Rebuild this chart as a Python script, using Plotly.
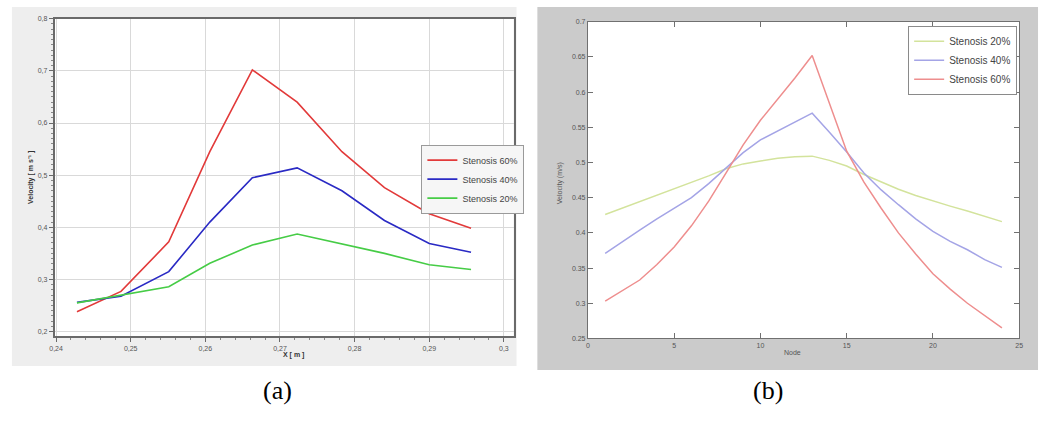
import plotly.graph_objects as go

# ---------------- Panel (a) data ----------------
a_x = [0.2428, 0.2487, 0.2551, 0.2606, 0.2663, 0.2723, 0.2783, 0.2840, 0.2900, 0.2956]
a_sten60 = [0.238, 0.277, 0.372, 0.545, 0.702, 0.640, 0.545, 0.476, 0.426, 0.398]
a_sten40 = [0.256, 0.268, 0.315, 0.410, 0.495, 0.514, 0.470, 0.413, 0.369, 0.352]
a_sten20 = [0.255, 0.270, 0.286, 0.331, 0.366, 0.387, 0.368, 0.350, 0.328, 0.319]

# ---------------- Panel (b) data ----------------
b_nodes = list(range(1, 25))
b_sten20 = [0.426, 0.435, 0.444, 0.453, 0.462, 0.471, 0.481, 0.491, 0.498, 0.502, 0.506, 0.508,
            0.509, 0.503, 0.495, 0.483, 0.472, 0.462, 0.453, 0.445, 0.438, 0.431, 0.423, 0.416]
b_sten40 = [0.371, 0.388, 0.404, 0.420, 0.435, 0.450, 0.470, 0.492, 0.514, 0.532, 0.545, 0.557,
            0.570, 0.543, 0.515, 0.485, 0.461, 0.440, 0.420, 0.402, 0.388, 0.376, 0.362, 0.351]
b_sten60 = [0.303, 0.318, 0.333, 0.355, 0.380, 0.410, 0.445, 0.485, 0.525, 0.560, 0.590, 0.620,
            0.652, 0.585, 0.516, 0.472, 0.435, 0.400, 0.370, 0.342, 0.320, 0.300, 0.282, 0.265]
b_yticks = [0.25, 0.3, 0.35, 0.4, 0.45, 0.5, 0.55, 0.6, 0.65, 0.7]
b_yticktext = ["0.25", "0.3", "0.35", "0.4", "0.45", "0.5", "0.55", "0.6", "0.65", "0.7"]
b_xticks = [0, 5, 10, 15, 20, 25]
b_xticktext = ["0", "5", "10", "15", "20", "25"]

W, H = 1044, 428
def px(x):
    return x / W
def py(y):
    return 1 - y / H

fig = go.Figure()

# panel (a) traces
fig.add_trace(go.Scatter(x=a_x, y=a_sten60, mode="lines", name="Stenosis 60%",
                         line=dict(color="#e23a3a", width=1.6), xaxis="x", yaxis="y", legend="legend"))
fig.add_trace(go.Scatter(x=a_x, y=a_sten40, mode="lines", name="Stenosis 40%",
                         line=dict(color="#2a2ac4", width=1.6), xaxis="x", yaxis="y", legend="legend"))
fig.add_trace(go.Scatter(x=a_x, y=a_sten20, mode="lines", name="Stenosis 20%",
                         line=dict(color="#46cc46", width=1.6), xaxis="x", yaxis="y", legend="legend"))

# panel (b) traces
fig.add_trace(go.Scatter(x=b_nodes, y=b_sten20, mode="lines", name="Stenosis 20%",
                         line=dict(color="#d3e39c", width=1.5), xaxis="x2", yaxis="y2", legend="legend2"))
fig.add_trace(go.Scatter(x=b_nodes, y=b_sten40, mode="lines", name="Stenosis 40%",
                         line=dict(color="#a4a4e6", width=1.5), xaxis="x2", yaxis="y2", legend="legend2"))
fig.add_trace(go.Scatter(x=b_nodes, y=b_sten60, mode="lines", name="Stenosis 60%",
                         line=dict(color="#ee8e8e", width=1.5), xaxis="x2", yaxis="y2", legend="legend2"))

shapes = [
    # panel backgrounds
    dict(type="rect", xref="paper", yref="paper", x0=px(7), x1=px(516), y0=py(368), y1=py(3),
         fillcolor="#eeeeee", line=dict(width=0), layer="below"),
    dict(type="rect", xref="x domain", yref="y domain", x0=0, x1=1, y0=0, y1=1,
         fillcolor="white", line=dict(width=0), layer="below"),
    dict(type="rect", xref="paper", yref="paper", x0=px(537), x1=px(1042), y0=py(372), y1=py(3),
         fillcolor="#cbcbcb", line=dict(width=0), layer="below"),
    dict(type="rect", xref="x2 domain", yref="y2 domain", x0=0, x1=1, y0=0, y1=1,
         fillcolor="white", line=dict(width=0), layer="below"),
]

small = dict(family="Liberation Sans, Arial", size=7, color="#555555")

annotations = [
    dict(text="(a)", x=px(258), y=py(410), xref="paper", yref="paper", showarrow=False,
         font=dict(family="Liberation Serif, Times New Roman", size=26, color="black")),
    dict(text="(b)", x=px(787), y=py(410), xref="paper", yref="paper", showarrow=False,
         font=dict(family="Liberation Serif, Times New Roman", size=26, color="black")),
    dict(text="<b>Velocity [ m s⁻¹ ]</b>", x=px(20), y=py(176), xref="paper", yref="paper",
         showarrow=False, textangle=-90, font=dict(family="Liberation Sans, Arial", size=7, color="#333333")),
    dict(text="<b>X [ m ]</b>", x=px(278), y=py(363), xref="paper", yref="paper",
         showarrow=False, font=dict(family="Liberation Sans, Arial", size=7, color="#333333")),
    dict(text="Velocity (m/s)", x=px(560), y=py(182), xref="paper", yref="paper",
         showarrow=False, textangle=-90, font=dict(family="Liberation Sans, Arial", size=7, color="#555555")),
    dict(text="Node", x=px(805), y=py(360), xref="paper", yref="paper",
         showarrow=False, font=dict(family="Liberation Sans, Arial", size=7, color="#555555")),
]

fig.update_layout(
    width=W, height=H,
    margin=dict(l=0, r=0, t=0, b=0),
    paper_bgcolor="white", plot_bgcolor="white",
    separators=",.",
    showlegend=True,
    shapes=shapes,
    annotations=annotations,
    xaxis=dict(domain=[px(50), px(513)], range=[0.2398, 0.3013], anchor="y",
               tick0=0.24, dtick=0.01, showgrid=True, gridcolor="#d9d9d9", gridwidth=1,
               showline=True, linecolor="#6a6a6a", linewidth=1.5, mirror=True,
               ticks="outside", ticklen=4, tickcolor="#6a6a6a", tickfont=small, zeroline=False,
               minor=dict(dtick=0.002, ticks="outside", ticklen=2, tickcolor="#888888", showgrid=False)),
    yaxis=dict(domain=[py(338), py(15)], range=[0.1906, 0.8], anchor="x",
               tick0=0.2, dtick=0.1, showgrid=True, gridcolor="#d9d9d9", gridwidth=1,
               showline=True, linecolor="#6a6a6a", linewidth=1.5, mirror=True,
               ticks="outside", ticklen=4, tickcolor="#6a6a6a", tickfont=small, zeroline=False,
               minor=dict(dtick=0.01, ticks="outside", ticklen=2, tickcolor="#888888", showgrid=False)),
    xaxis2=dict(domain=[px(588), px(1023)], range=[0, 25], anchor="y2",
                tickmode="array", tickvals=b_xticks, ticktext=b_xticktext,
                showgrid=False, showline=True, linecolor="#707070", linewidth=1, mirror="ticks",
                ticks="inside", ticklen=5, tickcolor="#707070", tickfont=small, zeroline=False),
    yaxis2=dict(domain=[py(340), py(18)], range=[0.25, 0.7], anchor="x2",
                tickmode="array", tickvals=b_yticks, ticktext=b_yticktext,
                showgrid=False, showline=True, linecolor="#707070", linewidth=1, mirror="ticks",
                ticks="inside", ticklen=5, tickcolor="#707070", tickfont=small, zeroline=False),
    legend=dict(x=px(420), y=py(143), xanchor="left", yanchor="top",
                bgcolor="#f6f6f6", bordercolor="#9a9a9a", borderwidth=1,
                font=dict(family="Liberation Sans, Arial", size=9, color="#444444"),
                tracegroupgap=0, itemwidth=30),
    legend2=dict(x=px(911), y=py(22), xanchor="left", yanchor="top",
                 bgcolor="white", bordercolor="#8a8a8a", borderwidth=1,
                 font=dict(family="Liberation Sans, Arial", size=10, color="#444444"),
                 tracegroupgap=0, itemwidth=30),
)

fig.write_html("out.html")
